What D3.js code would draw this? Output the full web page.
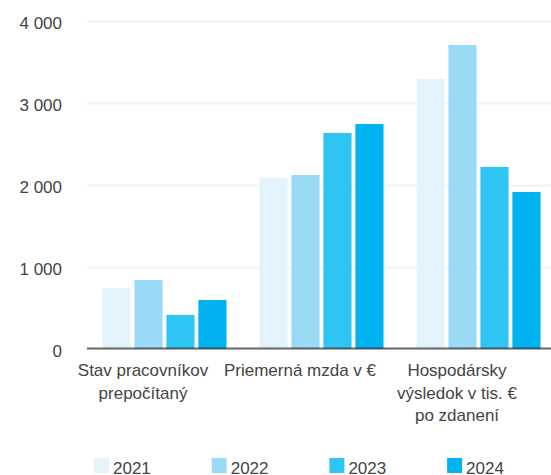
<!DOCTYPE html>
<html>
<head>
<meta charset="utf-8">
<script src="https://cdn.jsdelivr.net/npm/d3@7"></script>
<style>
  body { margin: 0; background: #fff; }
  text { font-family: "Liberation Sans", Arial, sans-serif; fill: #444; }
</style>
</head>
<body>
<div id="chart"></div>
<script>
// data
var categories = ["Stav pracovníkov\nprepočítaný", "Priemerná mzda v €", "Hospodársky\nvýsledok v tis. €\npo zdanení"]
var years = ["2021", "2022", "2023", "2024"]
var values2021 = [744, 2085, 3293]
var values2022 = [841, 2122, 3707]
var values2023 = [415, 2634, 2220]
var values2024 = [598, 2744, 1915]
var yTicks = [0, 1000, 2000, 3000, 4000]
var colors = ["#e2f3fb", "#9adaf6", "#2ec5f4", "#00b3f0"]

var series = [values2021, values2022, values2023, values2024]

// dimensions
var width = 551,
    height = 475

var svg = d3.select("#chart")
  .append("svg")
    .attr("width", width)
    .attr("height", height)

// scales
var x0 = d3.scaleBand()
  .domain(categories)
  .range([86, 557])
  .paddingInner(0.21)
  .paddingOuter(0.105)

var x1 = d3.scaleBand()
  .domain(years)
  .range([0, x0.bandwidth()])
  .paddingInner(0.12)

var y = d3.scaleLinear()
  .domain([0, 4000])
  .range([349, 21])

var color = d3.scaleOrdinal()
  .domain(years)
  .range(colors)

var fmt = d3.formatLocale({decimal: ",", thousands: " ", grouping: [3], currency: ["", " €"]}).format(",")

// gridlines + y labels
var yAxis = svg.append("g")
  .attr("transform", "translate(87,0)")
  .call(d3.axisLeft(y).tickValues(yTicks).tickFormat(fmt).tickSize(-(width - 87)).tickPadding(25))

yAxis.select(".domain").remove()
yAxis.selectAll(".tick line")
  .attr("stroke", "#f2f2f2")
  .attr("stroke-width", 2)
yAxis.selectAll(".tick text")
  .attr("fill", "#444")
  .style("font-size", "17px")
  .attr("dy", "0.45em")
yAxis.selectAll(".tick").filter(function(d) { return d === 0 }).select("line").remove()

// bars
var groups = svg.append("g")
  .selectAll("g")
  .data(categories)
  .enter()
  .append("g")
    .attr("transform", function(d) { return "translate(" + x0(d) + ",0)" })

groups.selectAll("rect")
  .data(function(d, i) {
    return years.map(function(yr, j) { return {year: yr, value: series[j][i]} })
  })
  .enter()
  .append("rect")
    .attr("x", function(d) { return x1(d.year) })
    .attr("y", function(d) { return y(d.value) })
    .attr("width", x1.bandwidth())
    .attr("height", function(d) { return y(0) - y(d.value) })
    .attr("fill", function(d) { return color(d.year) })

// baseline
svg.append("line")
  .attr("x1", 87)
  .attr("x2", width)
  .attr("y1", y(0) - 0.5)
  .attr("y2", y(0) - 0.5)
  .attr("stroke", "#333")
  .attr("stroke-opacity", 0.75)
  .attr("stroke-width", 2)

// category labels (a bit left of the bar groups, as in the original)
var labelShift = -21.5
var catLabels = svg.append("g")
  .selectAll("text")
  .data(categories)
  .enter()
  .append("text")
    .attr("text-anchor", "middle")
    .style("font-size", "17px")
    .attr("transform", function(d) {
      return "translate(" + (x0(d) + x0.bandwidth() / 2 + labelShift) + ",376)"
    })

catLabels.selectAll("tspan")
  .data(function(d) { return d.split("\n") })
  .enter()
  .append("tspan")
    .attr("x", 0)
    .attr("y", function(d, i) { return i * 22.5 })
    .text(function(d) { return d })

// legend
var legend = svg.append("g")
  .selectAll("g")
  .data(years)
  .enter()
  .append("g")
    .attr("transform", function(d, i) { return "translate(" + (94 + i * 117.7) + ",458)" })

legend.append("rect")
  .attr("width", 15)
  .attr("height", 15)
  .attr("fill", function(d) { return color(d) })

legend.append("text")
  .attr("x", 19)
  .attr("y", 15.5)
  .style("font-size", "17px")
  .text(function(d) { return d })
</script>
</body>
</html>
